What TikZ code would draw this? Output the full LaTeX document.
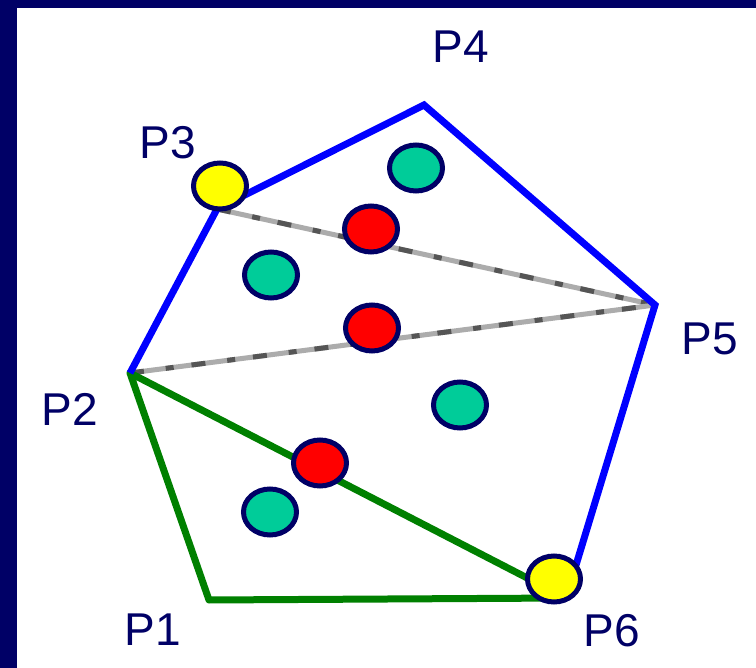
\documentclass[tikz,border=0pt]{standalone}
\usepackage{fontspec}
\setmainfont{Liberation Sans}
\usetikzlibrary{shapes.geometric}
\definecolor{navy}{RGB}{0,0,102}
\definecolor{edgeblue}{RGB}{0,0,255}
\definecolor{edgegreen}{RGB}{0,128,0}
\definecolor{ptyellow}{RGB}{255,255,0}
\definecolor{ptred}{RGB}{255,0,0}
\definecolor{ptteal}{RGB}{0,204,153}
\definecolor{lgray}{RGB}{172,172,172}
\definecolor{dgray}{RGB}{85,85,85}
\tikzset{
  dotnode/.style={ellipse, draw=navy, line width=5pt, minimum width=53pt, minimum height=46pt, inner sep=0pt},
  plabel/.style={text=navy, font=\fontsize{46}{55}\selectfont, anchor=base, inner sep=0pt},
  blueedge/.style={draw=edgeblue, line width=7pt, line join=miter},
  greenedge/.style={draw=edgegreen, line width=7pt, line join=round},
  graylight/.style={draw=lgray, line width=5pt},
  graydark/.style={draw=dgray, line width=5pt, dash pattern=on 14pt off 22pt on 8pt off 18pt}
}
\begin{document}
\begin{tikzpicture}[x=1pt,y=-1pt]
\useasboundingbox (0,0) rectangle (756,668);
\fill[navy] (0,0) rectangle (756,668);
\fill[white] (17,8) rectangle (756,668);

\coordinate (v1) at (209,600);
\coordinate (v2) at (130,373);
\coordinate (v3) at (217,209);
\coordinate (v4) at (424,105);
\coordinate (v5) at (655,305);
\coordinate (v6) at (566,598);

% gray chords
\draw[graylight] (v3) -- (v5);
\draw[graydark] (v3) -- (v5);
\draw[graylight] (v2) -- (v5);
\draw[graydark] (v2) -- (v5);

% polygon edges
\draw[greenedge] (v2) -- (v1) -- (v6) -- cycle;
\draw[blueedge] (v2) -- (v3) -- (v4) -- (v5) -- (v6);

% points
\node[dotnode, fill=ptyellow] (y3) at (220,186) {};
\node[dotnode, fill=ptyellow] (y6) at (554,579) {};
\node[dotnode, fill=ptred] (r1) at (371,229) {};
\node[dotnode, fill=ptred] (r2) at (372,328) {};
\node[dotnode, fill=ptred] (r3) at (320,463) {};
\node[dotnode, fill=ptteal] (t1) at (416,168) {};
\node[dotnode, fill=ptteal] (t2) at (271,275) {};
\node[dotnode, fill=ptteal] (t3) at (460,405) {};
\node[dotnode, fill=ptteal] (t4) at (270,512) {};

% labels
\node[plabel] (l4) at (461,63) {P4};
\node[plabel] (l3) at (168,159) {P3};
\node[plabel] (l5) at (710,355) {P5};
\node[plabel] (l2) at (70,426) {P2};
\node[plabel] (l1) at (153,645) {P1};
\node[plabel] (l6) at (612,646) {P6};
\end{tikzpicture}
\end{document}
